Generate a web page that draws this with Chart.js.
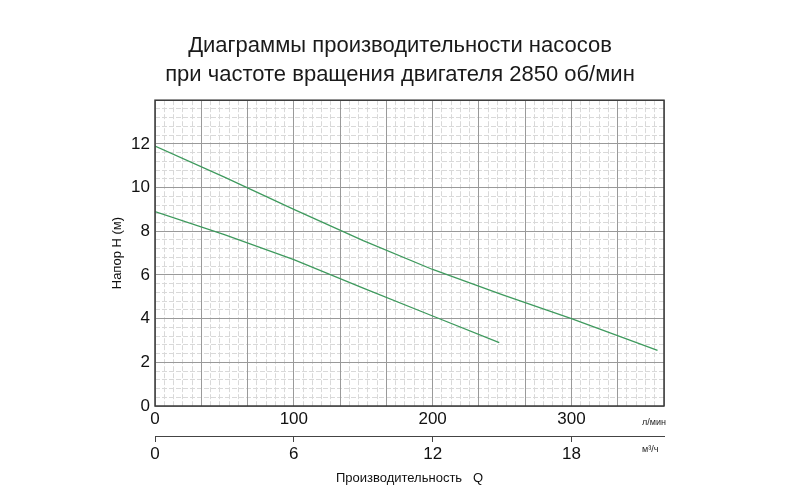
<!DOCTYPE html>
<html>
<head>
<meta charset="utf-8">
<script src="https://cdn.jsdelivr.net/npm/chart.js@4.4.1/dist/chart.umd.min.js"></script>
<style>
  html, body { margin: 0; padding: 0; background: #fff; }
  #wrap { width: 800px; height: 500px; }
</style>
</head>
<body>
<div id="wrap"><canvas id="pumpChart" width="800" height="500"></canvas></div>
<script>
// flow in l/min, head in m
const flowLarge = [0, 50, 100, 150, 200, 250, 300, 362];
const headLarge = [11.9, 10.48, 9.0, 7.57, 6.25, 5.1, 4.0, 2.55];
const flowSmall = [0, 50, 100, 150, 200, 248];
const headSmall = [8.9, 7.85, 6.7, 5.4, 4.12, 2.9];

const titleLines = ['Диаграммы производительности насосов', 'при частоте вращения двигателя 2850 об/мин'];
const yTitle = 'Напор Н (м)';
const xTitle = 'Производительность   Q';
const unitLpm = 'л/мин';
const unitM3h = 'м³/ч';

const Q_MAX_M3H = 22;               // right edge of grid, m³/h
const Q_MAX_LPM = Q_MAX_M3H * 1000 / 60;
const H_MAX = 14;

const FONT = '"Liberation Sans", Arial, sans-serif';
const GREEN = '#3f9a5e';

const toPoints = (xs, ys) => xs.map((x, i) => ({ x: x, y: ys[i] }));

// frame round the plot + unit labels next to the two x axes
const framePlugin = {
  id: 'frame',
  afterDraw(chart) {
    const { ctx, chartArea } = chart;
    ctx.save();
    ctx.strokeStyle = '#3a3a3a';
    ctx.lineWidth = 1.5;
    ctx.strokeRect(chartArea.left, chartArea.top, chartArea.right - chartArea.left, chartArea.bottom - chartArea.top);

    ctx.fillStyle = '#222';
    ctx.font = '9px ' + FONT;
    ctx.textAlign = 'left';
    ctx.textBaseline = 'middle';
    const xs = chart.scales.x, x2 = chart.scales.x2;
    ctx.fillText(unitLpm, chartArea.right - 22, xs.top + 17);
    ctx.fillText(unitM3h, chartArea.right - 22, x2.top + 14);
    ctx.restore();
  }
};

const minorColor = c => (c.index % 5 === 0 ? 'rgba(0,0,0,0)' : '#d9d9d9');

new Chart(document.getElementById('pumpChart'), {
  type: 'line',
  data: {
    datasets: [
      {
        data: toPoints(flowLarge, headLarge),
        borderColor: GREEN,
        borderWidth: 1.3,
        pointRadius: 0,
        tension: 0,
        xAxisID: 'x',
        yAxisID: 'y'
      },
      {
        data: toPoints(flowSmall, headSmall),
        borderColor: GREEN,
        borderWidth: 1.3,
        pointRadius: 0,
        tension: 0,
        xAxisID: 'x',
        yAxisID: 'y'
      }
    ]
  },
  options: {
    responsive: false,
    animation: false,
    layout: { padding: { left: 64, right: 64, top: 0, bottom: 10 } },
    plugins: {
      legend: { display: false },
      tooltip: { enabled: false },
      title: {
        display: true,
        text: titleLines,
        color: '#1a1a1a',
        font: { family: FONT, size: 22, weight: 'normal', lineHeight: 1.3 },
        padding: { top: 32, bottom: 11 }
      }
    },
    scales: {
      // minor grid (0.4 m³/h, 0.4 m)
      xm: {
        type: 'linear', position: 'bottom', weight: -2,
        min: 0, max: Q_MAX_M3H,
        ticks: { display: false, stepSize: 0.4 },
        grid: { color: minorColor, drawTicks: false, lineWidth: 1 },
        border: { display: false, dash: [5, 2] },
        afterFit: s => { s.height = 0; }
      },
      ym: {
        type: 'linear', position: 'right', weight: 5,
        min: 0, max: H_MAX,
        ticks: { display: false, stepSize: 0.4 },
        grid: { color: minorColor, drawTicks: false, lineWidth: 1 },
        border: { display: false, dash: [5, 2] },
        afterFit: s => { s.width = 72; }
      },
      // major vertical grid every 2 m³/h
      xg: {
        type: 'linear', position: 'bottom', weight: -1,
        min: 0, max: Q_MAX_M3H,
        ticks: { display: false, stepSize: 2 },
        grid: { color: '#9a9a9a', drawTicks: false },
        border: { display: false },
        afterFit: s => { s.height = 0; }
      },
      x: {
        type: 'linear', position: 'bottom', weight: 0,
        min: 0, max: Q_MAX_LPM,
        ticks: {
          stepSize: 100, includeBounds: false, maxRotation: 0, padding: 3,
          color: '#111', font: { family: FONT, size: 17 }
        },
        grid: { display: false, drawTicks: false },
        border: { display: false },
        afterFit: s => { s.height = 30; }
      },
      x2: {
        type: 'linear', position: 'bottom', weight: 1,
        min: 0, max: Q_MAX_M3H,
        ticks: {
          stepSize: 6, includeBounds: false, maxRotation: 0, padding: 2,
          color: '#111', font: { family: FONT, size: 17 }
        },
        grid: { drawOnChartArea: false, drawTicks: true, tickLength: 6, color: '#444' },
        border: { display: true, color: '#444', width: 1 },
        title: {
          display: true, text: xTitle, color: '#111',
          font: { family: FONT, size: 13 },
          padding: { top: 0, bottom: 4 }
        },
        afterFit: s => { s.height = 54; }
      },
      y: {
        type: 'linear', position: 'left', weight: 0,
        min: 0, max: H_MAX,
        ticks: {
          stepSize: 2, padding: 5, color: '#111',
          font: { family: FONT, size: 17 },
          callback: v => (v === H_MAX ? '' : v)
        },
        grid: { color: '#9a9a9a', drawTicks: false },
        border: { display: false },
        title: {
          display: true, text: yTitle, color: '#111',
          font: { family: FONT, size: 13 },
          padding: { top: 46, bottom: 0 }
        },
        afterFit: s => { s.width = 91; }
      }
    }
  },
  plugins: [framePlugin]
});
</script>
</body>
</html>
